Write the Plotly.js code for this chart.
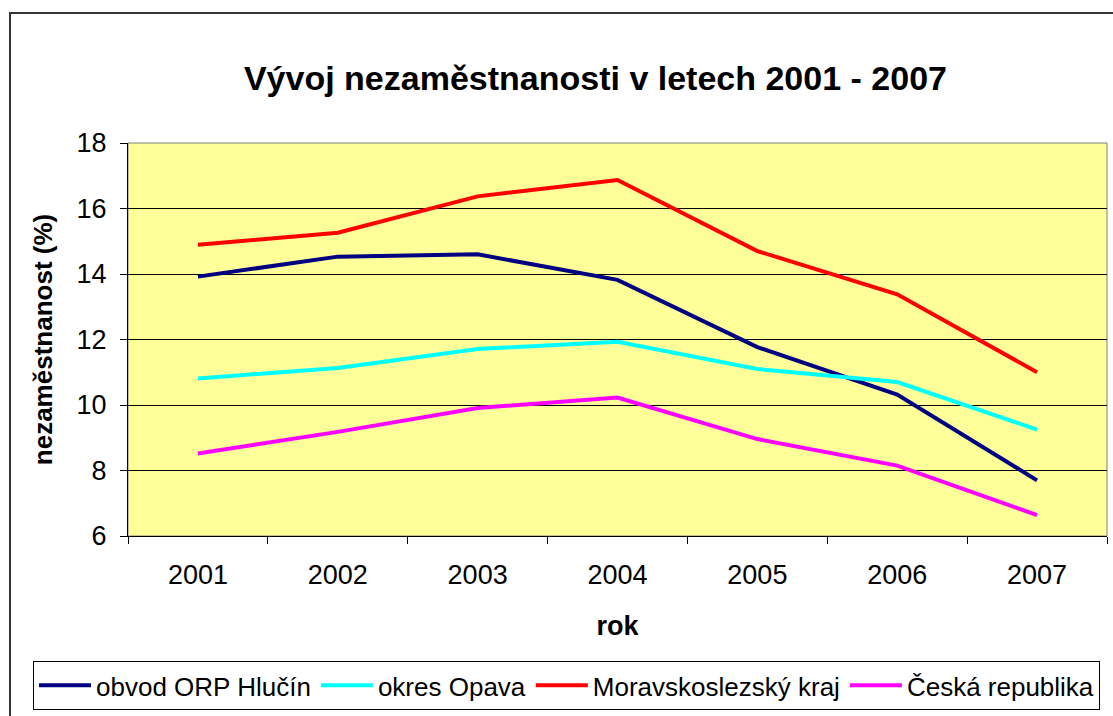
<!DOCTYPE html>
<html>
<head>
<meta charset="utf-8">
<script src="https://cdn.plot.ly/plotly-3.0.1.min.js"></script>
<style>
  html, body { margin: 0; padding: 0; background: #fff; }
  #wrap { position: relative; width: 1113px; height: 716px; overflow: hidden; }
  #chart { position: absolute; left: 0; top: 0; width: 1113px; height: 716px; }
  #frame { position: absolute; left: 9px; top: 12px; width: 1200px; height: 800px;
           border-left: 2px solid #333; border-top: 2px solid #333; pointer-events: none; }
</style>
</head>
<body>
<div id="wrap"><div id="chart"></div><div id="frame"></div></div>
<script>
const years = ['2001', '2002', '2003', '2004', '2005', '2006', '2007'];
const seriesNames = ['obvod ORP Hlučín', 'okres Opava', 'Moravskoslezský kraj', 'Česká republika'];
const hlucin = [13.92, 14.53, 14.60, 13.82, 11.77, 10.32, 7.70];
const opava = [10.81, 11.13, 11.71, 11.93, 11.10, 10.70, 9.25];
const msk = [14.89, 15.26, 16.37, 16.87, 14.70, 13.38, 11.00];
const cr = [8.52, 9.18, 9.91, 10.23, 8.96, 8.15, 6.64];
const yTicks = [6, 8, 10, 12, 14, 16, 18];

const colors = ['#000080', '#00FFFF', '#FF0000', '#FF00FF'];
const values = [hlucin, opava, msk, cr];
const FONT = '"Liberation Sans", Arial, sans-serif';

const traces = values.map((v, i) => ({
  type: 'scatter', mode: 'lines', x: years, y: v, name: seriesNames[i],
  line: { color: colors[i], width: 4 }, hoverinfo: 'x+y+name'
}));

const layout = {
  width: 1113, height: 716,
  margin: { l: 128, r: 6, t: 143, b: 178 },
  paper_bgcolor: '#FFFFFF',
  plot_bgcolor: '#FFFF99',
  title: { text: '<b>Vývoj nezaměstnanosti v letech 2001 - 2007</b>',
           font: { family: FONT, size: 34, color: '#000' },
           x: 0.535, xanchor: 'center', y: 0.891, yanchor: 'middle' },
  showlegend: true,
  legend: { orientation: 'h', x: -0.097, xanchor: 'left', y: -0.318, yanchor: 'top',
            bordercolor: '#000', borderwidth: 1, bgcolor: '#FFF',
            font: { family: FONT, size: 26, color: '#000' }, tracegroupgap: 0, itemwidth: 52 },
  xaxis: {
    type: 'category', range: [-0.5, 6.5], tickson: 'boundaries',
    ticks: 'outside', ticklen: 7, tickcolor: '#000', tickwidth: 1,
    showline: true, linecolor: '#000', linewidth: 1, showgrid: false, zeroline: false,
    tickfont: { family: FONT, size: 27, color: '#000' }, ticklabelstandoff: 15,
    title: { text: '<b>rok</b>', font: { family: FONT, size: 27, color: '#000' }, standoff: 26 }
  },
  yaxis: {
    range: [6, 18], tickvals: yTicks, ticktext: yTicks.map(String),
    ticks: 'outside', ticklen: 7, tickcolor: '#000', tickwidth: 1,
    showline: true, linecolor: '#000', linewidth: 1,
    showgrid: true, gridcolor: '#000', gridwidth: 1, zeroline: false,
    tickfont: { family: FONT, size: 27, color: '#000' }, ticklabelstandoff: 8,
    title: { text: '<b>nezaměstnanost (%)</b>', font: { family: FONT, size: 26, color: '#000' }, standoff: 16 }
  },
  shapes: [{ type: 'rect', xref: 'paper', yref: 'paper', x0: 0, x1: 1, y0: 0, y1: 1,
             line: { color: '#808080', width: 1 }, layer: 'below' }]
};

Plotly.newPlot('chart', traces, layout, { displayModeBar: false, staticPlot: true });
</script>
</body>
</html>
